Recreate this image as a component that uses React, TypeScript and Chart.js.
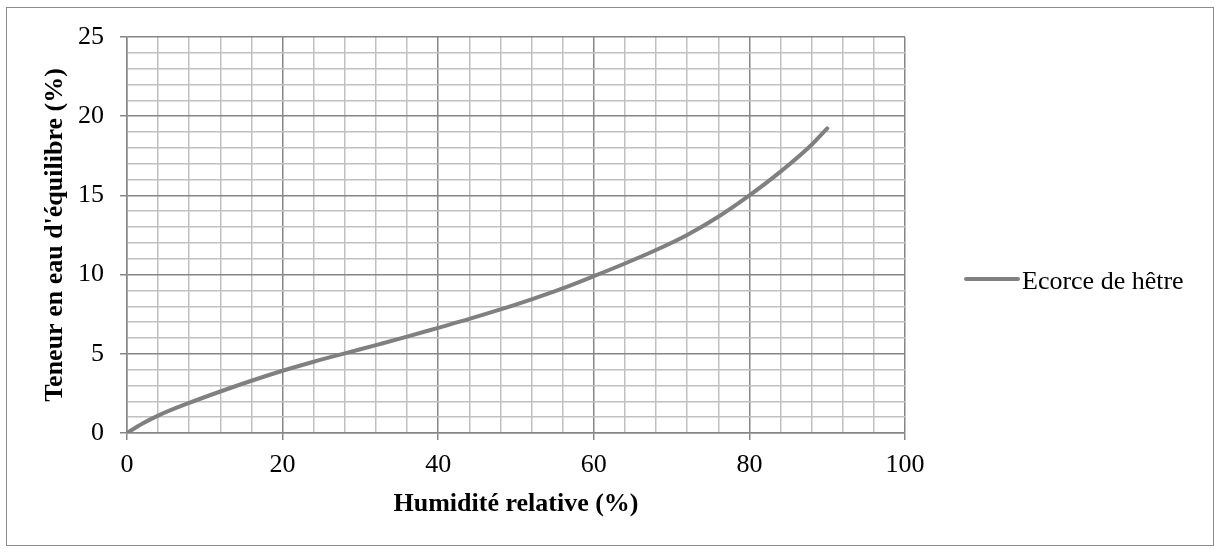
import { useEffect, useRef } from "react";
import { Chart, registerables } from "chart.js";

Chart.register(...registerables);

const seriesLabel = "Ecorce de hêtre";
const humidity = [0, 2, 4, 8, 12, 16, 20, 24, 28, 32, 36, 40, 44, 48, 52, 56, 60, 64, 68, 72, 76, 80, 84, 88, 90];
const moisture = [0, 0.6, 1.1, 1.9, 2.62, 3.3, 3.93, 4.5, 5.03, 5.55, 6.08, 6.64, 7.2, 7.8, 8.44, 9.13, 9.9, 10.7, 11.55, 12.5, 13.65, 15.0, 16.5, 18.2, 19.23];
const xTitle = "Humidité relative (%)";
const yTitle = "Teneur en eau d'équilibre (%)";

const FONT = "'Liberation Serif', 'Times New Roman', serif";
const MAJOR = "#868686";
const MINOR = "#c0c0c0";
const LINE = "#808080";

const frame = {
  id: "frame",
  beforeDraw(chart: any) {
    const ctx = chart.ctx;
    ctx.save();
    ctx.fillStyle = "#ffffff";
    ctx.fillRect(0, 0, chart.width, chart.height);
    ctx.strokeStyle = "#8c8c8c";
    ctx.lineWidth = 1;
    ctx.strokeRect(6.5, 7.5, 1207, 538);
    ctx.restore();
  },
  afterDraw(chart: any) {
    const ctx = chart.ctx;
    const ds = chart.data.datasets[0];
    ctx.save();
    ctx.strokeStyle = LINE;
    ctx.lineWidth = 4;
    ctx.lineCap = "round";
    ctx.beginPath();
    ctx.moveTo(966, 279);
    ctx.lineTo(1018, 279);
    ctx.stroke();
    ctx.fillStyle = "#000000";
    ctx.font = `26px ${FONT}`;
    ctx.textBaseline = "alphabetic";
    ctx.textAlign = "left";
    ctx.fillText(ds.label, 1022, 289);
    ctx.restore();
  },
};

export default function App() {
  const ref = useRef<HTMLCanvasElement | null>(null);

  useEffect(() => {
    document.body.style.margin = "0";
    const canvas = ref.current!;
    const chart = new Chart(canvas, {
      type: "line",
      data: {
        datasets: [
          {
            label: seriesLabel,
            data: humidity.map((x, i) => ({ x, y: moisture[i] })),
            borderColor: LINE,
            borderWidth: 4,
            pointRadius: 0,
            cubicInterpolationMode: "monotone",
            borderCapStyle: "round",
            borderJoinStyle: "round",
            fill: false,
          },
        ],
      },
      options: {
        animation: false,
        responsive: false,
        maintainAspectRatio: false,
        layout: { padding: { left: 0, top: 37, right: 310, bottom: 0 } },
        plugins: { legend: { display: false }, tooltip: { enabled: false } },
        scales: {
          x: {
            type: "linear",
            min: 0,
            max: 100,
            afterFit: (s: any) => {
              s.height = 116;
            },
            ticks: {
              stepSize: 4,
              autoSkip: false,
              maxRotation: 0,
              padding: 10,
              color: "#000",
              font: { family: FONT, size: 26 },
              callback: (v: any) => (Number(v) % 20 === 0 ? String(v) : ""),
            },
            grid: {
              color: (c: any) => (c.tick && c.tick.value % 20 === 0 ? MAJOR : MINOR),
              lineWidth: 1.5,
              tickLength: 7,
              tickColor: (c: any) => (c.tick && c.tick.value % 20 === 0 ? MAJOR : "rgba(0,0,0,0)"),
            },
            border: { color: MAJOR, width: 1.5 },
            title: {
              display: true,
              text: xTitle,
              color: "#000",
              font: { family: FONT, size: 26, weight: "bold" },
              padding: { top: 0, bottom: 29 },
            },
          },
          y: {
            type: "linear",
            min: 0,
            max: 25,
            afterFit: (s: any) => {
              s.width = 127;
            },
            ticks: {
              stepSize: 1,
              autoSkip: false,
              padding: 16,
              color: "#000",
              font: { family: FONT, size: 26 },
              callback: (v: any) => (Number(v) % 5 === 0 ? String(v) : ""),
            },
            grid: {
              color: (c: any) => (c.tick && c.tick.value % 5 === 0 ? MAJOR : MINOR),
              lineWidth: 1.5,
              tickLength: 7,
              tickColor: (c: any) => (c.tick && c.tick.value % 5 === 0 ? MAJOR : "rgba(0,0,0,0)"),
            },
            border: { color: MAJOR, width: 1.5 },
            title: {
              display: true,
              text: yTitle,
              color: "#000",
              font: { family: FONT, size: 26, weight: "bold" },
              padding: { top: 40, bottom: 0 },
            },
          },
        },
      },
      plugins: [frame],
    });
    return () => chart.destroy();
  }, []);

  return (
    <div style={{ width: 1215, height: 549 }}>
      <canvas ref={ref} width={1215} height={549} style={{ display: "block", width: 1215, height: 549 }} />
    </div>
  );
}
